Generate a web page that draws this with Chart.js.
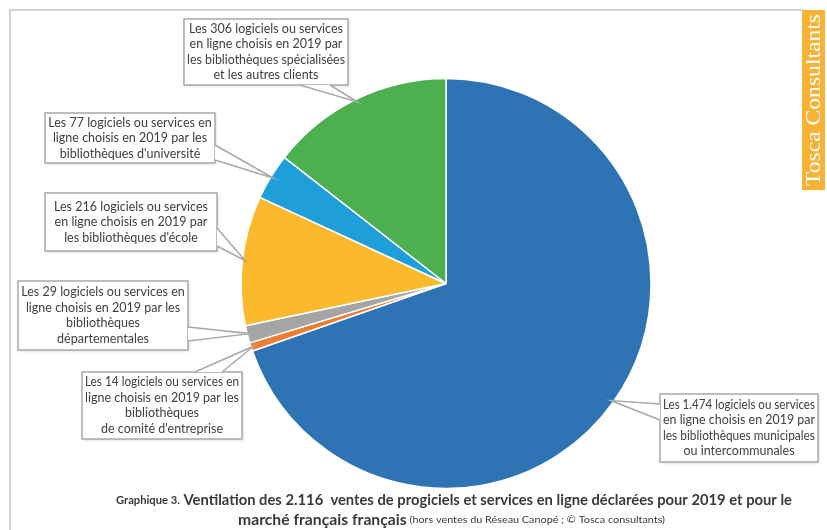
<!DOCTYPE html>
<html>
<head>
<meta charset="utf-8">
<script src="https://cdn.jsdelivr.net/npm/chart.js@4"></script>
<style>
  html, body { margin: 0; padding: 0; background: #ffffff; }
  #wrap { width: 827px; height: 530px; position: relative; }
</style>
</head>
<body>
<div id="wrap"><canvas id="pie" width="827" height="530"></canvas></div>
<script>
// Data
const categories = [
    'bibliothèques municipales ou intercommunales',
    'bibliothèques de comité d\'entreprise',
    'bibliothèques départementales',
    'bibliothèques d\'école',
    'bibliothèques d\'université',
    'bibliothèques spécialisées et autres clients'
];
const values = [1474, 14, 29, 216, 77, 306];
const calloutLines = [
    ['Les 1.474 logiciels ou services', 'en ligne choisis en 2019 par', 'les bibliothèques municipales', 'ou intercommunales'],
    ['Les 14 logiciels ou services en', 'ligne choisis en 2019 par les', 'bibliothèques', 'de comité d\'entreprise'],
    ['Les 29 logiciels ou services en', 'ligne choisis en 2019 par les', 'bibliothèques', 'départementales'],
    ['Les 216 logiciels ou services', 'en ligne choisis en 2019 par', 'les bibliothèques d\'école'],
    ['Les 77 logiciels ou services en', 'ligne choisis en 2019 par les', 'bibliothèques d\'université'],
    ['Les 306 logiciels ou services', 'en ligne choisis en 2019 par', 'les bibliothèques spécialisées', 'et les autres clients']
];
const titleLine1 = ['Graphique 3.', ' Ventilation des 2.116  ventes de progiciels et services en ligne déclarées pour 2019 et pour le'];
const titleLine2 = ['marché français français', ' (hors ventes du Réseau Canopé ; © Tosca consultants)'];
const brand = 'Tosca Consultants';

// Styles / layout
const sliceColors = ['#2E74B5', '#ED7D31', '#A5A5A5', '#FDB92E', '#1F9FD9', '#4CAF50'];
const calloutLayout = [
    { box: [660, 394, 158, 68], base: [[660, 404], [660, 420]] },
    { box: [82, 372, 160, 67], base: [[195, 372], [222, 372]] },
    { box: [18, 281, 170, 69], base: [[188, 327], [188, 341]] },
    { box: [45, 193, 172, 58], base: [[217, 228], [217, 246]] },
    { box: [45, 113, 170, 50], base: [[215, 145], [215, 160]] },
    { box: [184, 19, 164, 66], base: [[300, 85], [330, 85]] }
];

// Draw runs of text squeezed to a target width
function drawRuns(ctx, runs, x0, width, y) {
    let total = 0;
    runs.forEach(r => { ctx.font = r.font; total += ctx.measureText(r.text).width; });
    const sx = width / total;
    ctx.save();
    ctx.translate(x0, y);
    ctx.scale(sx, 1);
    let x = 0;
    runs.forEach(r => {
        ctx.font = r.font;
        ctx.fillText(r.text, x, 0);
        x += ctx.measureText(r.text).width;
    });
    ctx.restore();
}

const decorPlugin = {
    id: 'decor',
    beforeDraw(chart) {
        const ctx = chart.ctx;
        ctx.save();
        // frame
        ctx.strokeStyle = '#d4d4d4';
        ctx.lineWidth = 2;
        ctx.beginPath();
        ctx.moveTo(10, 530);
        ctx.lineTo(10, 10);
        ctx.lineTo(803, 10);
        ctx.stroke();
        // brand strip
        ctx.fillStyle = '#F9B233';
        ctx.fillRect(802, 10, 23, 180);
        ctx.translate(814, 100);
        ctx.rotate(-Math.PI / 2);
        ctx.fillStyle = '#ffffff';
        ctx.textBaseline = 'middle';
        ctx.font = '20px "Liberation Serif", serif';
        const w = ctx.measureText(brand).width;
        const s = 172 / w;
        ctx.scale(s, 1);
        ctx.textAlign = 'center';
        ctx.fillText(brand, 0, 1);
        ctx.restore();
    },
    afterDatasetsDraw(chart) {
        const ctx = chart.ctx;
        const meta = chart.getDatasetMeta(0);
        ctx.save();
        meta.data.forEach((arc, i) => {
            const p = arc.getProps(['x', 'y', 'startAngle', 'endAngle', 'outerRadius']);
            const mid = (p.startAngle + p.endAngle) / 2;
            const r = p.outerRadius - 3;
            const tip = [p.x + r * Math.cos(mid), p.y + r * Math.sin(mid)];
            const L = calloutLayout[i];
            const [bx, by, bw, bh] = L.box;

            // box with soft shadow
            ctx.save();
            ctx.shadowColor = 'rgba(0,0,0,0.18)';
            ctx.shadowBlur = 3;
            ctx.shadowOffsetX = 1;
            ctx.shadowOffsetY = 1;
            ctx.fillStyle = '#ffffff';
            ctx.fillRect(bx, by, bw, bh);
            ctx.restore();
            ctx.strokeStyle = '#a9a9a9';
            ctx.lineWidth = 1.5;
            ctx.strokeRect(bx, by, bw, bh);

            // wedge pointer
            ctx.beginPath();
            ctx.moveTo(L.base[0][0], L.base[0][1]);
            ctx.lineTo(tip[0], tip[1]);
            ctx.lineTo(L.base[1][0], L.base[1][1]);
            ctx.closePath();
            ctx.fillStyle = '#ffffff';
            ctx.fill();
            ctx.beginPath();
            ctx.moveTo(L.base[0][0], L.base[0][1]);
            ctx.lineTo(tip[0], tip[1]);
            ctx.lineTo(L.base[1][0], L.base[1][1]);
            ctx.stroke();

            // text
            const lines = calloutLines[i];
            const lh = 15.5;
            ctx.fillStyle = '#404040';
            ctx.font = '12.5px Lato, sans-serif';
            ctx.textAlign = 'center';
            ctx.textBaseline = 'middle';
            const y0 = by + bh / 2 - (lines.length - 1) * lh / 2;
            lines.forEach((t, k) => {
                const tw = ctx.measureText(t).width;
                const maxW = bw - 6;
                ctx.save();
                ctx.translate(bx + bw / 2, y0 + k * lh);
                if (tw > maxW) ctx.scale(maxW / tw, 1);
                ctx.fillText(t, 0, 0);
                ctx.restore();
            });
        });

        // caption
        ctx.fillStyle = '#3a3a3a';
        ctx.textAlign = 'left';
        ctx.textBaseline = 'middle';
        drawRuns(ctx, [
            { text: titleLine1[0], font: 'bold 11px Lato, sans-serif' },
            { text: titleLine1[1], font: 'bold 14.5px Lato, sans-serif' }
        ], 116, 676, 500);
        drawRuns(ctx, [
            { text: titleLine2[0], font: 'bold 14.5px Lato, sans-serif' },
            { text: titleLine2[1], font: '10px Lato, sans-serif' }
        ], 238, 427, 520);
        ctx.restore();
    }
};

new Chart(document.getElementById('pie').getContext('2d'), {
    type: 'pie',
    data: {
        labels: categories,
        datasets: [{
            data: values,
            backgroundColor: sliceColors,
            borderColor: '#ffffff',
            borderWidth: 1.5
        }]
    },
    options: {
        responsive: false,
        devicePixelRatio: 1,
        animation: false,
        radius: 205,
        layout: {
            padding: { left: 241, right: 176, top: 78, bottom: 41 }
        },
        plugins: {
            legend: { display: false },
            tooltip: { enabled: false }
        }
    },
    plugins: [decorPlugin]
});
</script>
</body>
</html>
